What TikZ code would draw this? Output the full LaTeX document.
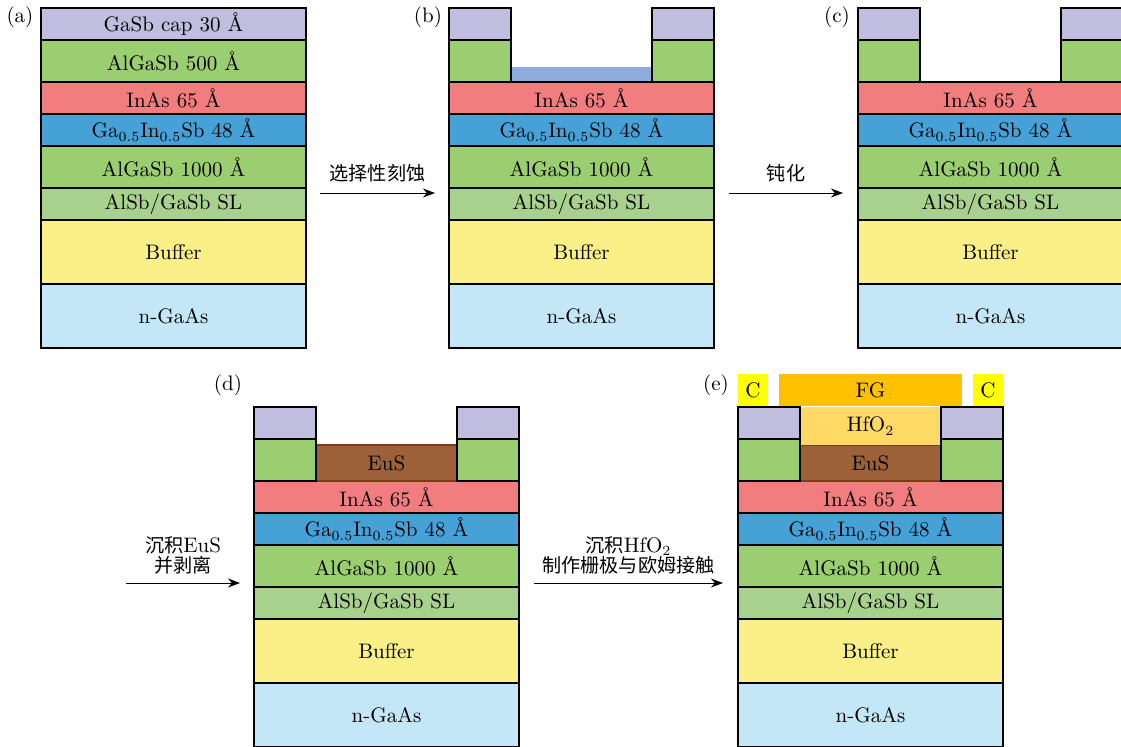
\documentclass[tikz,border=0pt]{standalone}
\usepackage{fontspec}
\newfontfamily\cjk[Scale=0.91]{Noto Sans CJK SC}
\usetikzlibrary{positioning,calc,arrows.meta}

\definecolor{capc}{RGB}{193,189,222}
\definecolor{algasb}{RGB}{155,206,113}
\definecolor{inas}{RGB}{242,125,127}
\definecolor{gainsb}{RGB}{70,161,215}
\definecolor{slc}{RGB}{169,209,142}
\definecolor{bufc}{RGB}{250,240,135}
\definecolor{gaas}{RGB}{196,231,248}
\definecolor{resid}{RGB}{143,170,220}
\definecolor{eus}{RGB}{156,97,57}
\definecolor{eusline}{RGB}{122,62,20}
\definecolor{hfo}{RGB}{255,217,102}
\definecolor{fgc}{RGB}{255,192,0}
\definecolor{cont}{RGB}{255,255,0}

\begin{document}
\begin{tikzpicture}[x=0.5pt,y=-0.5pt,>={Stealth[length=6pt,width=4.5pt]},
	font=\fontsize{10.5}{10}\selectfont,
	layer/.style={draw, rectangle, line width=0.6pt, inner sep=0pt, outer sep=0pt, minimum width=132.5pt, anchor=north},
	pillar/.style={layer, minimum width=31pt},
	short/.style={minimum height=16pt},
	med/.style={minimum height=21pt},
	tall/.style={minimum height=32pt},
	gap fill/.style={rectangle, inner sep=0pt, outer sep=0pt, minimum width=70.5pt},
	tag/.style={inner sep=0pt},
	step arrow/.style={->, line width=0.5pt}]

	\useasboundingbox (0,0) rectangle (1121,746);

	% (a) as grown
	\node[tag] (ta) at (20,17) {(a)};
	\node[layer,short,fill=capc,anchor=north west] (a1) at (41,8) {GaSb cap 30 \AA};
	\node[layer,med,fill=algasb] (a2) at (a1.south) {AlGaSb 500 \AA};
	\node[layer,short,fill=inas] (a3) at (a2.south) {InAs 65 \AA};
	\node[layer,short,fill=gainsb] (a4) at (a3.south) {Ga$_{0.5}$In$_{0.5}$Sb 48 \AA};
	\node[layer,med,fill=algasb] (a5) at (a4.south) {AlGaSb 1000 \AA};
	\node[layer,short,fill=slc] (a6) at (a5.south) {AlSb/GaSb SL};
	\node[layer,tall,fill=bufc] (a7) at (a6.south) {Buffer};
	\node[layer,tall,fill=gaas] (a8) at (a7.south) {n-GaAs};

	% (b) selective etch
	\node[tag] (tb) at (428,17) {(b)};
	\node[layer,short,fill=inas,anchor=north west] (b3) at (449,82) {InAs 65 \AA};
	\node[layer,short,fill=gainsb] (b4) at (b3.south) {Ga$_{0.5}$In$_{0.5}$Sb 48 \AA};
	\node[layer,med,fill=algasb] (b5) at (b4.south) {AlGaSb 1000 \AA};
	\node[layer,short,fill=slc] (b6) at (b5.south) {AlSb/GaSb SL};
	\node[layer,tall,fill=bufc] (b7) at (b6.south) {Buffer};
	\node[layer,tall,fill=gaas] (b8) at (b7.south) {n-GaAs};
	\node[gap fill,fill=resid,minimum height=7pt,anchor=south,yshift=0.3pt] (b0) at (b3.north) {};
	\node[pillar,med,fill=algasb,anchor=south west] (b2) at (b3.north west) {};
	\node[pillar,short,fill=capc,anchor=south] (b1) at (b2.north) {};
	\node[pillar,med,fill=algasb,anchor=south east] (b9) at (b3.north east) {};
	\node[pillar,short,fill=capc,anchor=south] (b10) at (b9.north) {};

	% (c) passivation
	\node[tag] (tc) at (837,17) {(c)};
	\node[layer,short,fill=inas,anchor=north west] (c3) at (858,82) {InAs 65 \AA};
	\node[layer,short,fill=gainsb] (c4) at (c3.south) {Ga$_{0.5}$In$_{0.5}$Sb 48 \AA};
	\node[layer,med,fill=algasb] (c5) at (c4.south) {AlGaSb 1000 \AA};
	\node[layer,short,fill=slc] (c6) at (c5.south) {AlSb/GaSb SL};
	\node[layer,tall,fill=bufc] (c7) at (c6.south) {Buffer};
	\node[layer,tall,fill=gaas] (c8) at (c7.south) {n-GaAs};
	\node[pillar,med,fill=algasb,anchor=south west] (c2) at (c3.north west) {};
	\node[pillar,short,fill=capc,anchor=south] (c1) at (c2.north) {};
	\node[pillar,med,fill=algasb,anchor=south east] (c9) at (c3.north east) {};
	\node[pillar,short,fill=capc,anchor=south] (c10) at (c9.north) {};

	% (d) EuS lift-off
	\node[tag] (td) at (228,385) {(d)};
	\node[layer,short,fill=inas,anchor=north west] (d3) at (254,481) {InAs 65 \AA};
	\node[layer,short,fill=gainsb] (d4) at (d3.south) {Ga$_{0.5}$In$_{0.5}$Sb 48 \AA};
	\node[layer,med,fill=algasb] (d5) at (d4.south) {AlGaSb 1000 \AA};
	\node[layer,short,fill=slc] (d6) at (d5.south) {AlSb/GaSb SL};
	\node[layer,tall,fill=bufc] (d7) at (d6.south) {Buffer};
	\node[layer,tall,fill=gaas] (d8) at (d7.south) {n-GaAs};
	\node[gap fill,draw=eusline,line width=0.6pt,fill=eus,minimum height=18pt,anchor=south] (d0) at (d3.north) {EuS};
	\node[pillar,med,fill=algasb,anchor=south west] (d2) at (d3.north west) {};
	\node[pillar,short,fill=capc,anchor=south] (d1) at (d2.north) {};
	\node[pillar,med,fill=algasb,anchor=south east] (d9) at (d3.north east) {};
	\node[pillar,short,fill=capc,anchor=south] (d10) at (d9.north) {};

	% (e) HfO2, gate and contacts
	\node[tag] (te) at (716,385) {(e)};
	\node[layer,short,fill=inas,anchor=north west] (e3) at (738,481) {InAs 65 \AA};
	\node[layer,short,fill=gainsb] (e4) at (e3.south) {Ga$_{0.5}$In$_{0.5}$Sb 48 \AA};
	\node[layer,med,fill=algasb] (e5) at (e4.south) {AlGaSb 1000 \AA};
	\node[layer,short,fill=slc] (e6) at (e5.south) {AlSb/GaSb SL};
	\node[layer,tall,fill=bufc] (e7) at (e6.south) {Buffer};
	\node[layer,tall,fill=gaas] (e8) at (e7.south) {n-GaAs};
	\node[gap fill,draw=eusline,line width=0.6pt,fill=eus,minimum height=18pt,anchor=south] (e0) at (e3.north) {EuS};
	\node[gap fill,fill=hfo,minimum height=19pt,anchor=south] (hf) at (e0.north) {HfO$_2$};
	\node[pillar,med,fill=algasb,anchor=south west] (e2) at (e3.north west) {};
	\node[pillar,short,fill=capc,anchor=south] (e1) at (e2.north) {};
	\node[pillar,med,fill=algasb,anchor=south east] (e9) at (e3.north east) {};
	\node[pillar,short,fill=capc,anchor=south] (e10) at (e9.north) {};
	\node[gap fill,fill=fgc,minimum width=91.5pt,minimum height=16pt,anchor=south,yshift=0.5pt] (fg) at (hf.north) {FG};
	\node[gap fill,fill=cont,minimum width=15pt,minimum height=16pt,anchor=south west,yshift=0.5pt] (cl) at (e1.north west) {C};
	\node[gap fill,fill=cont,minimum width=15pt,minimum height=16pt,anchor=south east,yshift=0.5pt] (cr) at (e10.north east) {C};

	% process steps
	\coordinate (p1) at (320,193);
	\coordinate (p2) at (435,193);
	\coordinate (p3) at (729,193);
	\coordinate (p4) at (843,193);
	\coordinate (p5) at (126,583);
	\coordinate (p6) at (240,583);
	\coordinate (p7) at (534,583);
	\coordinate (p8) at (723,583);

	\draw[step arrow] (p1) -- node[above=2pt] {\cjk 选择性刻蚀} (p2);
	\draw[step arrow] (p3) -- node[above=2pt] {\cjk 钝化} (p4);
	\draw[step arrow] (p5) -- node[above=1pt,align=center] {{\cjk 沉积}EuS\\{\cjk 并剥离}} (p6);
	\draw[step arrow] (p7) -- node[above=1pt,align=center] {{\cjk 沉积}HfO$_2$\\{\cjk 制作栅极与欧姆接触}} (p8);

\end{tikzpicture}
\end{document}
